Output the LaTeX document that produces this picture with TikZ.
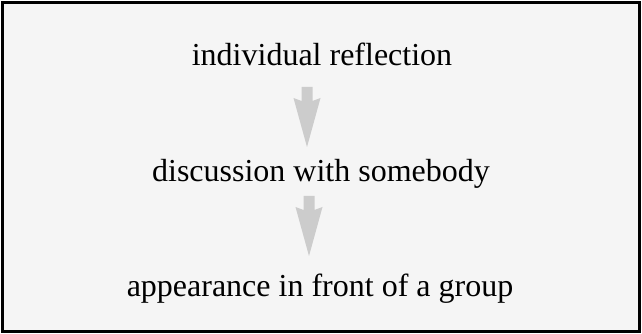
\documentclass[tikz,border=0pt]{standalone}
\usepackage{fontspec}
\setmainfont{Liberation Serif}
\usetikzlibrary{calc}
\definecolor{bgfill}{HTML}{F5F5F5}
\definecolor{arrowgray}{HTML}{CCCCCC}
\begin{document}
\begin{tikzpicture}[x=0.75pt,y=-0.75pt,
  lbl/.style={font=\fontsize{24}{28}\selectfont, anchor=base, inner sep=0pt},
  barrow/.pic={\fill[arrowgray] (-5.5,0) -- (5.5,0) -- (5.5,14) -- (13.5,11) -- (0,60) -- (-13.5,11) -- (-5.5,14) -- cycle;}]
\useasboundingbox (0,0) rectangle (642,334);
\draw[line width=2pt, fill=bgfill] (2.5,2.5) rectangle (639.5,331.5);
\node[lbl] (t1) at (322,66) {individual reflection};
\node[lbl] (t2) at (321,182) {discussion with somebody};
\node[lbl] (t3) at (320,297) {appearance in front of a group};
\pic (a1) at ($(t1.base)+(-15,21)$) {barrow};
\pic (a2) at ($(t2.base)+(-12,14)$) {barrow};
\end{tikzpicture}
\end{document}
